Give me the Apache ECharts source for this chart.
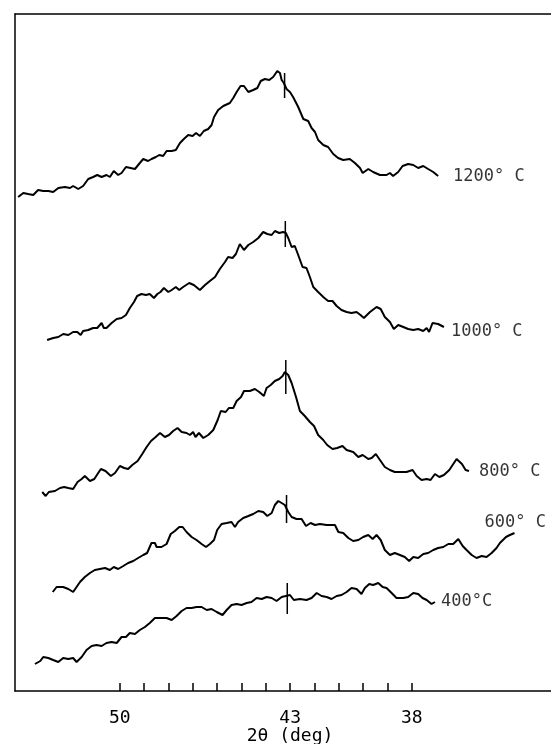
<!DOCTYPE html>
<html>
<head>
<meta charset="utf-8">
<script src="https://cdn.jsdelivr.net/npm/echarts@6/dist/echarts.min.js"></script>
<style>
html,body{margin:0;padding:0;background:#fff;}
#chart{width:551px;height:744px;}
</style>
</head>
<body>
<div id="chart"></div>
<script>
// 2θ (deg) tick positions and labels
const tickValues = [50,49,48,47,46,45,44,43,42,41,40,39,38];
const tickLabels = [50,43,38];

// Curve names
const names = ['1200° C','1000° C','800° C','600° C','400°C'];

// Intensity traces (2θ in deg, stacked intensity in arbitrary units)
const s1200 = [[54.18,494],[53.97,498],[53.77,497],[53.56,496],[53.36,501],[53.15,500],[52.94,500],[52.74,499],[52.53,503],[52.26,504],[52.05,503],[51.92,505],[51.71,502],[51.51,505],[51.30,512],[51.10,514],[50.93,516],[50.75,514],[50.55,516],[50.41,514],[50.25,520],[50.07,516],[49.93,518],[49.75,524],[49.56,523],[49.38,522],[49.18,528],[49.04,532],[48.84,530],[48.70,532],[48.52,534],[48.38,536],[48.22,535],[48.08,540],[47.87,540],[47.70,541],[47.53,548],[47.37,552],[47.19,556],[47.01,555],[46.87,558],[46.71,555],[46.55,560],[46.37,562],[46.23,566],[46.13,574],[45.96,581],[45.75,585],[45.48,588],[45.34,593],[45.20,599],[45.04,605],[44.90,605],[44.72,599],[44.52,601],[44.35,603],[44.21,610],[44.04,612],[43.86,611],[43.70,614],[43.53,620],[43.42,618],[43.35,611],[43.26,608],[43.15,602],[43.01,599],[42.88,594],[42.67,584],[42.46,572],[42.26,570],[42.12,563],[41.98,559],[41.85,551],[41.64,546],[41.44,544],[41.23,537],[41.03,533],[40.82,531],[40.55,532],[40.34,528],[40.13,523],[40.02,518],[39.79,522],[39.59,519],[39.31,516],[39.04,516],[38.90,518],[38.77,515],[38.56,519],[38.38,525],[38.15,527],[37.94,526],[37.74,523],[37.53,525],[37.33,522],[37.12,519],[36.92,515]];

const s1000 = [[52.99,351],[52.74,353],[52.53,354],[52.33,357],[52.12,356],[51.92,359],[51.75,359],[51.61,356],[51.51,360],[51.30,361],[51.10,363],[50.93,363],[50.75,368],[50.66,363],[50.55,363],[50.34,368],[50.13,372],[49.93,373],[49.75,376],[49.59,383],[49.42,389],[49.29,395],[49.11,397],[48.93,396],[48.77,397],[48.60,393],[48.46,397],[48.33,399],[48.19,403],[48.01,399],[47.87,401],[47.70,404],[47.56,401],[47.40,404],[47.15,408],[46.96,406],[46.71,401],[46.50,406],[46.30,410],[46.09,414],[45.89,422],[45.68,429],[45.55,434],[45.37,433],[45.23,437],[45.07,447],[44.90,441],[44.72,446],[44.52,449],[44.31,453],[44.11,459],[43.94,457],[43.76,456],[43.63,460],[43.45,458],[43.29,459],[43.18,458],[43.08,453],[42.94,444],[42.81,445],[42.67,436],[42.49,424],[42.33,423],[42.19,414],[42.05,404],[41.85,399],[41.64,394],[41.44,390],[41.26,390],[41.09,385],[40.89,381],[40.68,379],[40.48,378],[40.27,379],[40.11,376],[39.97,373],[39.72,379],[39.45,384],[39.28,382],[39.11,374],[38.90,369],[38.74,362],[38.56,366],[38.35,364],[38.15,362],[37.94,361],[37.74,362],[37.53,360],[37.39,363],[37.29,359],[37.15,368],[36.92,367],[36.68,364]];

const s800 = [[53.19,199],[53.05,195],[52.92,199],[52.67,200],[52.46,203],[52.29,204],[52.12,203],[51.92,202],[51.74,209],[51.57,212],[51.44,215],[51.23,210],[51.05,212],[50.89,218],[50.78,222],[50.59,220],[50.37,215],[50.20,218],[50.00,225],[49.82,223],[49.66,222],[49.49,226],[49.27,230],[49.08,237],[48.90,244],[48.72,250],[48.53,254],[48.35,258],[48.15,254],[47.98,256],[47.81,260],[47.63,263],[47.46,259],[47.26,258],[47.12,256],[46.99,259],[46.89,254],[46.75,258],[46.57,253],[46.37,256],[46.16,261],[45.98,271],[45.85,280],[45.65,279],[45.52,283],[45.34,283],[45.20,290],[45.02,294],[44.90,300],[44.66,300],[44.45,302],[44.27,299],[44.08,295],[43.97,303],[43.80,306],[43.63,310],[43.45,312],[43.31,315],[43.22,319],[43.08,316],[42.94,308],[42.76,294],[42.60,280],[42.40,275],[42.19,269],[42.02,265],[41.85,256],[41.64,251],[41.48,246],[41.26,242],[41.07,243],[40.85,245],[40.68,241],[40.41,239],[40.20,234],[40.02,236],[39.79,232],[39.65,233],[39.48,237],[39.31,231],[39.11,224],[38.90,221],[38.70,219],[38.49,219],[38.22,219],[37.97,221],[37.80,215],[37.60,211],[37.39,212],[37.23,211],[37.05,217],[36.87,214],[36.68,216],[36.46,221],[36.16,232],[35.94,227],[35.79,221],[35.65,220]];

const s600 = [[52.76,99],[52.60,104],[52.33,104],[52.12,102],[51.92,99],[51.78,104],[51.64,109],[51.44,114],[51.23,118],[51.03,121],[50.82,122],[50.61,123],[50.41,121],[50.25,124],[50.07,122],[49.86,125],[49.66,128],[49.45,130],[49.25,133],[49.04,136],[48.88,138],[48.70,148],[48.56,148],[48.49,144],[48.29,144],[48.08,147],[47.91,157],[47.74,160],[47.56,164],[47.42,164],[47.26,159],[47.05,154],[46.85,151],[46.64,147],[46.46,144],[46.30,147],[46.13,151],[46.00,161],[45.82,167],[45.61,168],[45.41,169],[45.27,164],[45.14,169],[44.93,173],[44.72,175],[44.52,177],[44.31,180],[44.11,179],[43.94,175],[43.76,178],[43.63,186],[43.49,190],[43.35,188],[43.22,186],[43.08,179],[42.94,174],[42.74,172],[42.53,172],[42.35,165],[42.16,168],[41.98,166],[41.78,167],[41.50,166],[41.16,166],[41.02,159],[40.82,158],[40.61,153],[40.41,150],[40.20,151],[40.00,154],[39.79,156],[39.61,152],[39.45,156],[39.28,151],[39.11,141],[38.90,136],[38.70,138],[38.49,136],[38.29,134],[38.11,130],[37.94,134],[37.74,133],[37.53,137],[37.33,138],[37.12,141],[36.92,143],[36.71,144],[36.50,147],[36.30,147],[36.09,152],[35.91,145],[35.75,141],[35.54,136],[35.34,133],[35.13,135],[34.93,134],[34.72,138],[34.52,143],[34.38,148],[34.13,154],[33.97,156],[33.78,158]];

const s400 = [[53.49,27],[53.27,30],[53.15,34],[52.94,33],[52.74,31],[52.53,29],[52.33,33],[52.12,32],[51.92,33],[51.78,29],[51.57,34],[51.37,41],[51.16,45],[50.96,46],[50.75,45],[50.55,48],[50.34,49],[50.13,48],[49.93,54],[49.75,54],[49.59,58],[49.38,57],[49.18,61],[48.97,64],[48.77,68],[48.56,73],[48.35,73],[48.08,73],[47.87,71],[47.67,75],[47.46,80],[47.26,83],[47.05,83],[46.85,84],[46.64,84],[46.43,81],[46.23,82],[46.02,79],[45.78,76],[45.61,81],[45.41,86],[45.20,87],[45.00,86],[44.79,88],[44.59,89],[44.38,93],[44.17,92],[43.97,94],[43.76,93],[43.56,90],[43.35,94],[43.18,95],[43.01,96],[42.85,91],[42.60,92],[42.33,91],[42.12,93],[41.91,98],[41.71,95],[41.50,94],[41.30,92],[41.09,95],[40.89,96],[40.68,99],[40.48,103],[40.27,102],[40.07,97],[39.93,103],[39.75,107],[39.59,106],[39.38,108],[39.20,104],[39.04,103],[38.83,98],[38.63,93],[38.35,93],[38.15,94],[37.94,98],[37.74,97],[37.56,93],[37.39,91],[37.19,87],[37.05,89]];

// Reference marker (vertical bar) on each trace
const markerAngle = [43.23, 43.20, 43.18, 43.15, 43.12];
const markerLow   = [593, 444, 297, 168, 77];
const markerHigh  = [618, 470, 331, 196, 108];

const traces = [s1200, s1000, s800, s600, s400];
const labelOffsets = [[15,1],[7,5],[10,1],[-30,-10],[6,0]];

const MONO = "'DejaVu Sans Mono', monospace";
const series = [];
traces.forEach((d, i) => {
  series.push({
    type: 'line', name: names[i], data: d,
    symbol: 'none', showSymbol: false, smooth: false,
    lineStyle: { color: '#000', width: 2 },
    silent: true, z: 3
  });
  series.push({
    type: 'line', name: names[i] + ' marker',
    data: [[markerAngle[i], markerLow[i]], [markerAngle[i], markerHigh[i]]],
    symbol: 'none', showSymbol: false,
    lineStyle: { color: '#000', width: 1.5 },
    silent: true, z: 4
  });
  series.push({
    type: 'scatter', name: names[i] + ' label',
    data: [{ value: d[d.length - 1] }],
    symbolSize: 0, silent: true,
    label: {
      show: true, position: 'right', distance: 0,
      offset: labelOffsets[i],
      formatter: names[i],
      fontFamily: MONO, fontSize: 17, color: '#000'
    }
  });
});

const chart = echarts.init(document.getElementById('chart'), null, { renderer: 'canvas' });
chart.setOption({
  backgroundColor: '#fff',
  animation: false,
  textStyle: { fontFamily: MONO },
  grid: { left: 15, right: 0, top: 14, bottom: 53, containLabel: false, outerBoundsMode: 'none' },
  xAxis: [{
    type: 'value', inverse: true, min: 32.28, max: 54.31, position: 'bottom',
    axisLine: { show: true, onZero: false, lineStyle: { color: '#000', width: 1.5 } },
    axisTick: { show: true, inside: true, length: 8, customValues: tickValues,
                lineStyle: { color: '#000', width: 1.5 } },
    axisLabel: { show: true, customValues: tickLabels, margin: 18,
                 fontFamily: MONO, fontSize: 18, color: '#000' },
    splitLine: { show: false },
    name: '2θ (deg)', nameLocation: 'middle', nameGap: 36, nameMoveOverlap: false,
    nameTextStyle: { fontFamily: MONO, fontSize: 18, color: '#000', padding: [0, 0, 0, 14] }
  }, {
    type: 'value', inverse: true, min: 32.28, max: 54.31, position: 'top',
    axisLine: { show: true, onZero: false, lineStyle: { color: '#000', width: 1.5 } },
    axisTick: { show: false }, axisLabel: { show: false }, splitLine: { show: false }
  }],
  yAxis: {
    type: 'value', min: 0, max: 677,
    axisLine: { show: true, onZero: false, lineStyle: { color: '#000', width: 1.5 } },
    axisTick: { show: false }, axisLabel: { show: false }, splitLine: { show: false }
  },
  series: series
});
</script>
</body>
</html>
